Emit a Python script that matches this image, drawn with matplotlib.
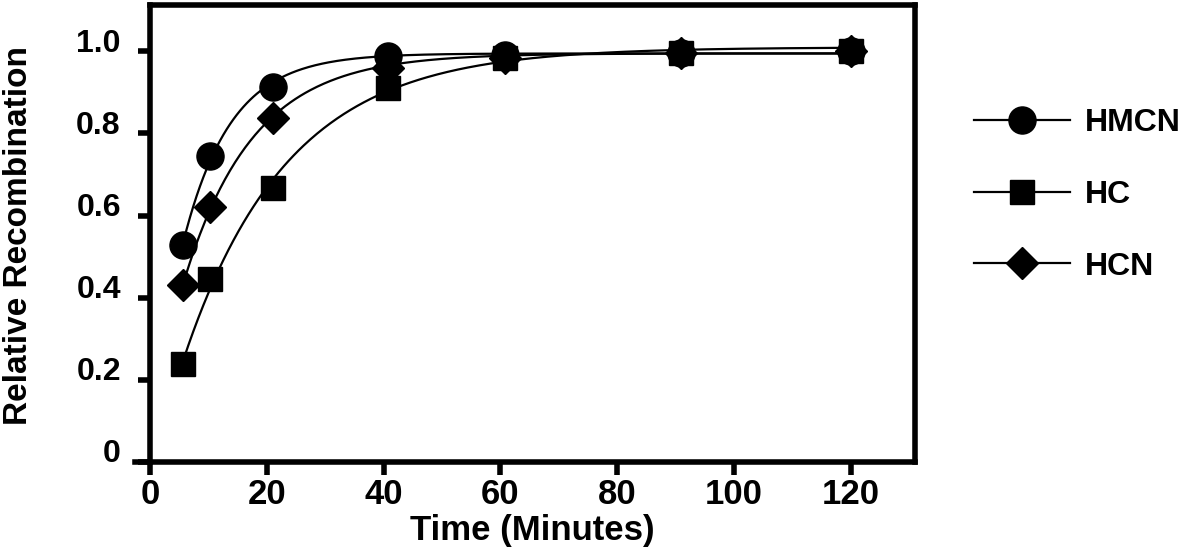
import matplotlib
matplotlib.use("Agg")
import matplotlib.pyplot as plt
import matplotlib.transforms as mtransforms
from matplotlib import font_manager
import numpy as np

# values
time = [5.7, 10.3, 21.0, 40.8, 60.8, 91.0, 120.0]
hmcn = [0.528, 0.746, 0.912, 0.989, 0.990, 0.995, 1.000]
hc = [0.238, 0.445, 0.667, 0.911, 0.985, 0.995, 1.000]
hcn = [0.431, 0.620, 0.838, 0.960, 0.985, 0.995, 1.000]

series = [("HMCN", hmcn, "o", 19.5), ("HC", hc, "s", 17), ("HCN", hcn, "D", 16)]


def fit_curve(t, y):
    # one-phase association: y = ymax * (1 - exp(-k (t - t0))), grid search
    t = np.asarray(t)
    y = np.asarray(y)
    best = None
    for ymax in np.linspace(0.97, 1.03, 13):
        for k in np.linspace(0.02, 0.4, 190):
            for t0 in np.linspace(-6, 5.5, 116):
                pred = ymax * (1 - np.exp(-k * (t - t0)))
                err = np.sum((pred - y) ** 2)
                if best is None or err < best[0]:
                    best = (err, ymax, k, t0)
    _, ymax, k, t0 = best
    tt = np.linspace(t[0], t[-1], 400)
    return tt, ymax * (1 - np.exp(-k * (tt - t0)))


plt.rcParams['font.family'] = ['Liberation Sans', 'DejaVu Sans']
plt.rcParams['font.weight'] = 'bold'

installed = {f.name for f in font_manager.fontManager.ttflist}
narrow = 'Liberation Sans Narrow' if 'Liberation Sans Narrow' in installed else 'Liberation Sans'

fig = plt.figure(figsize=(11.97, 5.57), dpi=100)
ax = fig.add_axes([0.1253, 0.171, 0.639, 0.82])

handles = []
for name, vals, mk, ms in series:
    tt, yy = fit_curve(time, vals)
    ax.plot(tt, yy, color='black', lw=1.6, zorder=2)
    ax.plot(time, vals, linestyle='none', marker=mk, markersize=ms,
            color='black', zorder=3)
    h, = ax.plot([], [], color='black', lw=1.6, marker=mk, markersize=ms,
                 label=name)
    handles.append(h)

ax.set_xlim(0, 131)
ax.set_ylim(0, 1.113)
ax.set_xticks([0, 20, 40, 60, 80, 100, 120])
ax.set_yticks([0, 0.2, 0.4, 0.6, 0.8, 1.0])
ax.set_yticklabels(['0', '0.2', '0.4', '0.6', '0.8', '1.0'])

for s in ax.spines.values():
    s.set_linewidth(4)
ax.spines['bottom'].set_bounds(-2.5, 131)
ax.tick_params(axis='both', width=4, length=9, direction='out')
ax.tick_params(axis='x', labelsize=25, pad=3)
ax.tick_params(axis='y', labelsize=23, pad=12)
for lab in ax.get_xticklabels():
    lab.set_family([narrow, 'DejaVu Sans'])
    lab.set_fontweight('bold')
lift = mtransforms.ScaledTranslation(0, 0.11, fig.dpi_scale_trans)
for lab in ax.get_yticklabels():
    lab.set_fontweight('bold')
    lab.set_transform(lab.get_transform() + lift)

ax.set_xlabel('Time (Minutes)', fontsize=25, fontweight='bold',
              family=[narrow, 'DejaVu Sans'], labelpad=2)
ax.set_ylabel('Relative Recombination', fontsize=24, fontweight='bold')
ax.yaxis.set_label_coords(-0.152, 0.496)

leg = ax.legend(handles=handles, loc='center left', bbox_to_anchor=(1.061, 0.584),
                frameon=False, fontsize=23, handlelength=3.0, handletextpad=0.45,
                labelspacing=1.3, borderaxespad=0)
for t in leg.get_texts():
    t.set_fontweight('bold')

fig.savefig('out.png', dpi=100)
